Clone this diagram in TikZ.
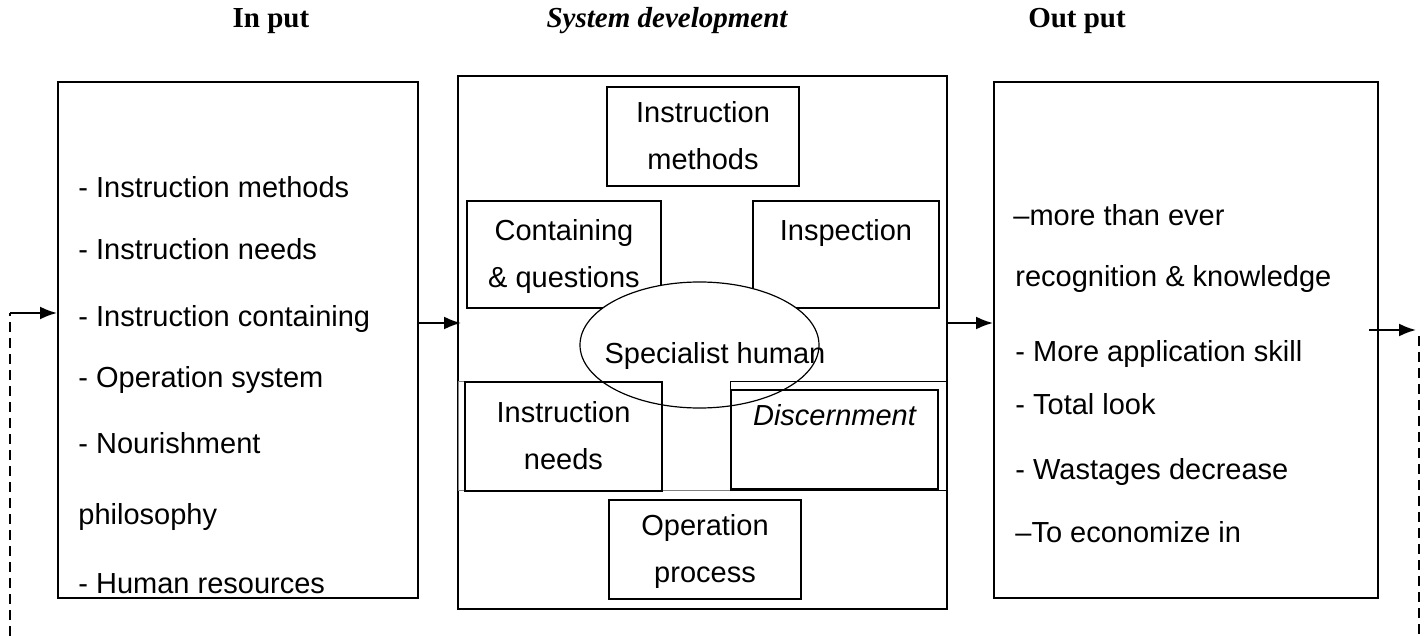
\documentclass[tikz,border=0pt]{standalone}
\usepackage{fontspec}
\setmainfont{Liberation Sans}
\newfontfamily\headfont{Liberation Serif}
\usetikzlibrary{arrows.meta,shapes.geometric}

\begin{document}
\begin{tikzpicture}[x=0.5pt,y=-0.5pt,
    font=\fontsize{14.5}{23.5}\selectfont,
    bigbox/.style={draw,line width=1pt,inner sep=0pt},
    smallbox/.style={draw,line width=0.75pt,inner sep=0pt,align=center,
      minimum width=96pt,minimum height=49.5pt},
    listtext/.style={anchor=base west,inner sep=0pt},
    head/.style={anchor=base,inner sep=0pt,font=\headfont\fontsize{14.5}{16}\selectfont\bfseries},
    flow/.style={-{Latex[length=8.5pt,width=6.5pt]},line width=1pt},
    feedback/.style={line width=0.8pt,dash pattern=on 5pt off 3pt}]
  \useasboundingbox (0,0) rectangle (1426,636);

  % headings
  \node[head] (hin) at (271,28) {In put};
  \node[head] (hsys) at (667,28) {\itshape System development};
  \node[head] (hout) at (1077,28) {Out put};

  % the three big boxes
  \node[bigbox,minimum width=180pt,minimum height=258pt] (inbox) at (238,340) {};
  \node[bigbox,minimum width=244.5pt,minimum height=266.5pt] (sysbox) at (702.5,342.5) {};
  \node[bigbox,minimum width=192pt,minimum height=258pt] (outbox) at (1186,340) {};

  % input list
  \foreach \y/\txt [count=\i] in {198/- Instruction methods,260/- Instruction needs,
      327/- Instruction containing,388/- Operation system,453/- Nourishment,
      524/philosophy,593/- Human resources}
    \node[listtext] (inl\i) at (78,\y) {\txt};

  % output list
  \foreach \y/\txt [count=\i] in {226/{\kern-1pt--}more than ever,287/recognition \& knowledge,
      362/- More application skill,415/- Total look,480/- Wastages decrease,
      543/{--}To economize in}
    \node[listtext] (outl\i) at (1015,\y) {\txt};

  % system development, upper part
  \node[smallbox] (methods) at (703,136.5) {\strut Instruction\\\strut methods};
  \node[smallbox,minimum width=97pt,minimum height=53.5pt] (contain) at (564,254.5)
    {\strut Containing\\\strut \& questions};
  \node[smallbox,minimum width=93pt,minimum height=53.5pt] (inspect) at (846,254.5)
    {\strut Inspection\\\strut};
  \draw[line width=0.5pt,gray] (458,382) rectangle (947,491);

  \node[draw,ellipse,fill=white,line width=0.6pt,inner sep=0pt,
    minimum width=119.5pt,minimum height=63pt] (human) at (699.5,345) {};
  \node[inner sep=0pt] (humantext) at (715,356) {Specialist human};

  % system development, lower part
  \node[smallbox,minimum width=98.5pt,minimum height=54.5pt] (needs) at (563.5,436.5)
    {\strut Instruction\\\strut needs};
  \node[smallbox,minimum width=108.5pt,minimum height=54.5pt,line width=0.5pt] (discframe) at (838.5,436.5) {};
  \node[smallbox,minimum width=103.5pt,minimum height=49.5pt] (discern) at (834.5,439.5)
    {\strut\itshape Discernment\\\strut};
  \node[smallbox] (process) at (705,549.5) {\strut Operation\\\strut process};

  % connectors
  \coordinate (fbl) at (10,636);
  \coordinate (fbr) at (1419,636);
  \coordinate (outend) at (1416,330);
  \draw[feedback] (fbl) -- (fbl |- 0,313);
  \draw[flow] (fbl |- 0,313) -- (inbox.west |- 0,313);
  \draw[flow] (inbox.east |- 0,323) -- ([xshift=2pt]sysbox.west |- 0,323);
  \draw[flow] (sysbox.east |- 0,323) -- (outbox.west |- 0,323);
  \draw[flow] ([xshift=-5pt]outbox.east |- outend) -- (outend);
  \draw[feedback] (fbr |- 0,336) -- (fbr);
\end{tikzpicture}
\end{document}
